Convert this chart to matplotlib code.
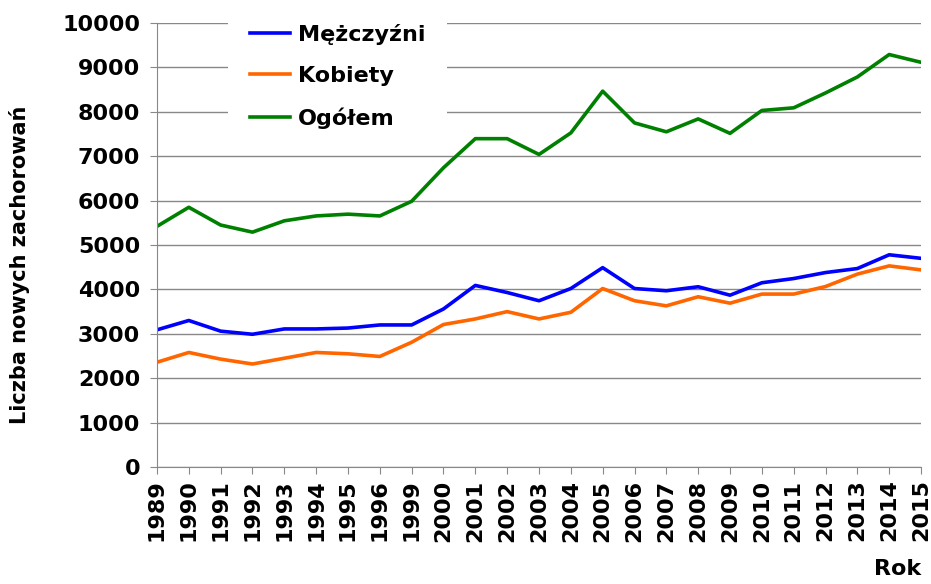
import matplotlib.pyplot as plt

# dane
lata = ['1989', '1990', '1991', '1992', '1993', '1994', '1995', '1996', '1999',
        '2000', '2001', '2002', '2003', '2004', '2005', '2006', '2007', '2008',
        '2009', '2010', '2011', '2012', '2013', '2014', '2015']
mezczyzni = [3090, 3300, 3060, 2990, 3110, 3110, 3130, 3200, 3200,
             3560, 4090, 3930, 3745, 4020, 4490, 4020, 3970, 4060,
             3870, 4150, 4245, 4380, 4470, 4780, 4700]
kobiety = [2360, 2580, 2430, 2320, 2450, 2580, 2550, 2490, 2810,
           3210, 3335, 3500, 3335, 3485, 4020, 3745, 3630, 3835,
           3690, 3895, 3895, 4065, 4345, 4530, 4440]
ogolem = [5420, 5850, 5450, 5290, 5545, 5655, 5695, 5655, 5985,
          6740, 7395, 7395, 7040, 7525, 8465, 7750, 7550, 7840,
          7515, 8030, 8090, 8425, 8785, 9290, 9115]

plt.rcParams['font.family'] = ['DejaVu Sans']
plt.rcParams['font.weight'] = 'bold'

fig = plt.figure(figsize=(9.31, 5.84), dpi=100)
ax = fig.add_axes([0.1686, 0.2003, 0.8207, 0.7603])

x = range(len(lata))
ax.plot(x, mezczyzni, color='#0000FF', linewidth=2.6, label='Mężczyźni')
ax.plot(x, kobiety, color='#FF6600', linewidth=2.6, label='Kobiety')
ax.plot(x, ogolem, color='#008000', linewidth=2.6, label='Ogółem')

ax.set_xlim(0, len(lata) - 1)
ax.set_ylim(0, 10000)
ax.set_yticks(range(0, 10001, 1000))
ax.set_xticks(list(x))
ax.set_xticklabels(lata, rotation=90, fontsize=16, fontweight='bold')
ax.tick_params(axis='y', labelsize=16, colors='#888888', labelcolor='black', length=5, pad=7)
ax.tick_params(axis='x', colors='#888888', labelcolor='black', length=5, pad=4)

ax.grid(axis='y', color='#888888', linewidth=1)
ax.set_axisbelow(True)
for s in ['top', 'right']:
    ax.spines[s].set_visible(False)
for s in ['left', 'bottom']:
    ax.spines[s].set_color('#888888')

ax.set_ylabel('Liczba nowych zachorowań', fontsize=15, fontweight='bold')
ax.yaxis.set_label_coords(-0.166, 0.455)
fig.text(0.989, 0.008, 'Rok', ha='right', va='bottom', fontsize=16, fontweight='bold')

leg = ax.legend(loc='upper left', bbox_to_anchor=(0.078, 1.073), fontsize=16,
                frameon=True, fancybox=False, edgecolor='none', framealpha=1,
                handlelength=1.8, handletextpad=0.35, labelspacing=0.95, borderpad=1.0)
for t in leg.get_texts():
    t.set_fontweight('bold')

fig.savefig('out.png', dpi=100)
